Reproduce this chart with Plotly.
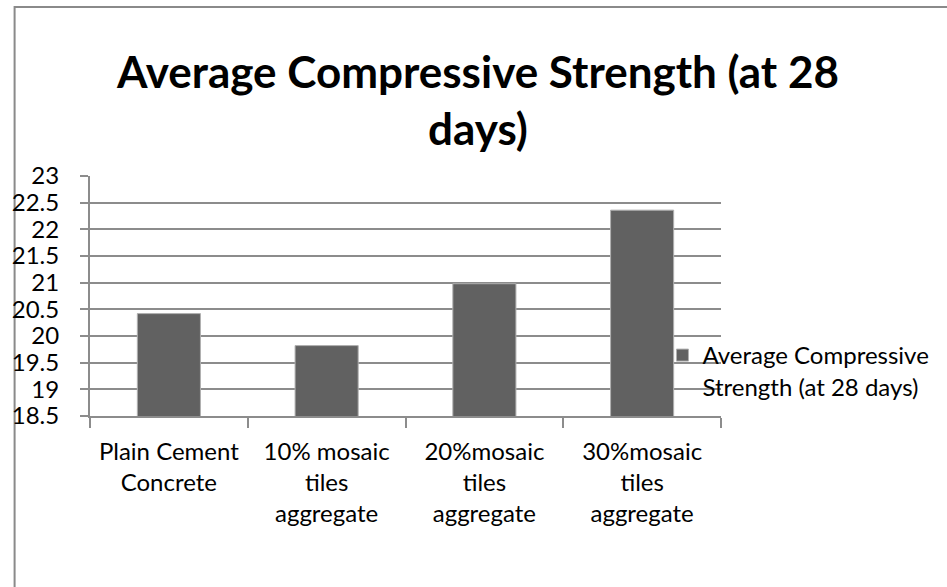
import plotly.graph_objects as go

# Mix categories and measured 28-day strengths (MPa)
categories = [
    "Plain Cement<br>Concrete",
    "10% mosaic<br>tiles<br>aggregate",
    "20%mosaic<br>tiles<br>aggregate",
    "30%mosaic<br>tiles<br>aggregate",
]
strength_28d = [20.42, 19.82, 20.98, 22.36]
series_name = "Average Compressive<br>Strength (at 28 days)"
chart_title = "Average Compressive Strength (at 28<br>days)"

W, H = 947, 587
L, R, T, B = 85, 226, 176, 171
pw, ph = W - L - R, H - T - B

def px_x(px):
    return (px - L) / pw

def px_y(py):
    return (H - B - py) / ph

grid = "#8c8c8c"
font_family = "Lato, Carlito, Calibri, sans-serif"

fig = go.Figure(
    go.Bar(
        x=categories,
        y=strength_28d,
        name=series_name,
        marker=dict(color="#616161", line=dict(color="#b0b0b0", width=1)),
        showlegend=True,
    )
)

fig.update_layout(
    width=W,
    height=H,
    margin=dict(l=L, r=R, t=T, b=B, pad=0),
    paper_bgcolor="white",
    plot_bgcolor="white",
    bargap=0.6,
    font=dict(family=font_family, size=24, color="black"),
    title=dict(
        text=chart_title,
        x=478 / W,
        xanchor="center",
        xref="container",
        y=1 - 88 / H,
        yanchor="top",
        font=dict(family=font_family, size=44, color="black", weight="bold"),
    ),
    legend=dict(
        x=px_x(662),
        xanchor="left",
        y=px_y(333),
        yanchor="top",
        valign="top",
        bgcolor="rgba(0,0,0,0)",
        font=dict(size=24),
        itemclick=False,
    ),
    xaxis=dict(
        type="category",
        showline=True,
        linecolor=grid,
        linewidth=2,
        ticks="outside",
        tickson="boundaries",
        ticklen=10,
        tickwidth=2,
        tickcolor=grid,
        showgrid=False,
        ticklabelstandoff=13,
    ),
    yaxis=dict(
        range=[18.5, 23],
        dtick=0.5,
        tick0=18.5,
        showline=True,
        linecolor=grid,
        linewidth=2,
        ticks="outside",
        ticklen=8,
        tickwidth=2,
        tickcolor=grid,
        showgrid=True,
        gridcolor=grid,
        gridwidth=2,
        zeroline=False,
        ticklabelstandoff=16,
    ),
    shapes=[
        dict(
            type="rect",
            xref="paper",
            yref="paper",
            x0=px_x(9),
            x1=px_x(960),
            y0=px_y(600),
            y1=px_y(7),
            line=dict(color="#8a8a8a", width=2),
            fillcolor="rgba(0,0,0,0)",
            layer="below",
        )
    ],
)

fig.write_html("out.html")
